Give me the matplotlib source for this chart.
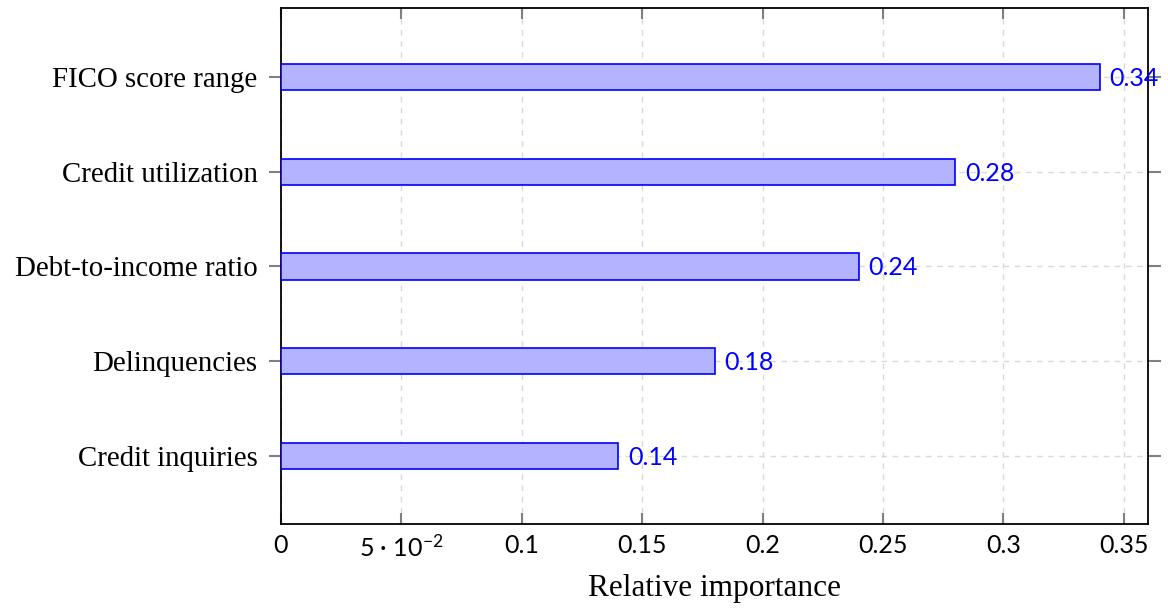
import matplotlib
matplotlib.use("Agg")
import matplotlib.pyplot as plt

plt.rcParams["mathtext.fontset"] = "custom"
plt.rcParams["mathtext.rm"] = "Lato"
plt.rcParams["mathtext.it"] = "Lato:italic"

categories = ["Credit inquiries", "Delinquencies", "Debt-to-income ratio",
              "Credit utilization", "FICO score range"]
values = [0.14, 0.18, 0.24, 0.28, 0.34]
value_labels = ["0.14", "0.18", "0.24", "0.28", "0.34"]
xticks = [0, 0.05, 0.1, 0.15, 0.2, 0.25, 0.3, 0.35]
xtick_labels = ["0", "5 \u00b7 10$^{\u22122}$", "0.1", "0.15", "0.2", "0.25", "0.3", "0.35"]

W, H = 1168, 610
fig = plt.figure(figsize=(W / 100, H / 100), dpi=100)
ax = fig.add_axes([281 / W, 1 - 524 / H, (1148 - 281) / W, (524 - 8) / H])

ypos = list(range(len(categories)))
ax.barh(ypos, values, height=0.28, color="#b3b3ff", edgecolor="#0000ff", linewidth=1.2, zorder=3)

for y, v, lab in zip(ypos, values, value_labels):
    ax.annotate(lab, (v, y), xytext=(7, -1), textcoords="offset points",
                ha="left", va="center", color="#0000ff", fontsize=18,
                family="Lato", zorder=4)

ax.set_xlim(0, 0.36)
ax.set_ylim(-0.72, 4.73)
ax.set_xticks(xticks)
ax.set_xticklabels(xtick_labels, family="Lato", fontsize=18)
ax.set_yticks(ypos)
ax.set_yticklabels(categories, family="Liberation Serif", fontsize=20.8)

ax.grid(True, color="#d9d9d9", linestyle=(0, (4, 4)), linewidth=1.0, zorder=0)
ax.set_axisbelow(True)

ax.tick_params(axis="x", direction="in", length=8, width=1.5, color="#808080",
               top=True, bottom=True, pad=7)
ax.tick_params(axis="y", direction="out", length=9, width=1.5, color="#808080",
               left=True, right=True, pad=8)

for s in ax.spines.values():
    s.set_linewidth(1.3)
    s.set_color("black")

ax.set_xlabel("Relative importance", family="Liberation Serif", fontsize=22.5, labelpad=10)

fig.savefig("out.png", dpi=100)
